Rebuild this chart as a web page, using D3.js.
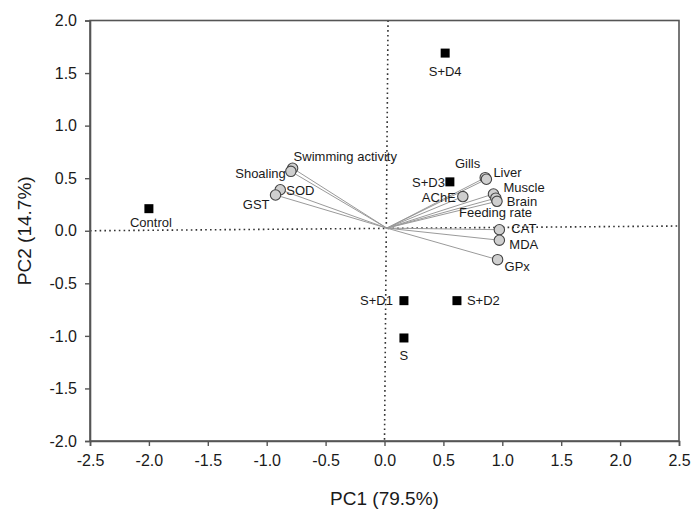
<!DOCTYPE html>
<html>
<head>
<meta charset="utf-8">
<script src="https://cdn.jsdelivr.net/npm/d3@7"></script>
<style>
    body { margin: 0; background: #fff; }
    text { font-family: "Liberation Sans", Arial, sans-serif; fill: #1a1a1a; }
</style>
</head>
<body>
<div id="chart"></div>
<script>
// sample scores (squares)
const sampleNames = ["Control", "S", "S+D1", "S+D2", "S+D3", "S+D4"];
const samplePC1 = [-2.0, 0.165, 0.165, 0.615, 0.555, 0.515];
const samplePC2 = [0.21, -1.02, -0.665, -0.665, 0.465, 1.69];

// variable loadings (circles)
const varNames = ["Swimming activity", "Shoaling", "SOD", "GST", "Gills", "Liver", "AChE",
    "Muscle", "Brain", "Feeding rate", "CAT", "MDA", "GPx"];
const varPC1 = [-0.78, -0.795, -0.885, -0.925, 0.855, 0.865, 0.665, 0.925, 0.945, 0.955, 0.975, 0.975, 0.96];
const varPC2 = [0.595, 0.565, 0.39, 0.34, 0.505, 0.49, 0.325, 0.35, 0.31, 0.28, 0.01, -0.09, -0.275];

const xTicks = [-2.5, -2.0, -1.5, -1.0, -0.5, 0.0, 0.5, 1.0, 1.5, 2.0, 2.5];
const yTicks = [-2.0, -1.5, -1.0, -0.5, 0.0, 0.5, 1.0, 1.5, 2.0];

// label placement (pixels, relative to marker)
const sampleLabelPos = {
    "Control": {dx: 2, dy: 18, anchor: "middle"},
    "S": {dx: 0, dy: 22, anchor: "middle"},
    "S+D1": {dx: -11, dy: 4, anchor: "end"},
    "S+D2": {dx: 10, dy: 4, anchor: "start"},
    "S+D3": {dx: -5, dy: 5, anchor: "end"},
    "S+D4": {dx: 0, dy: 23, anchor: "middle"}
};
const varLabelPos = {
    "Swimming activity": {dx: 1, dy: -7, anchor: "start"},
    "Shoaling": {dx: -5, dy: 7, anchor: "end"},
    "SOD": {dx: 6, dy: 5, anchor: "start"},
    "GST": {dx: -6, dy: 14, anchor: "end"},
    "Gills": {dx: -5, dy: -10, anchor: "end"},
    "Liver": {dx: 7, dy: -2, anchor: "start"},
    "AChE": {dx: -7, dy: 5, anchor: "end"},
    "Muscle": {dx: 10, dy: -2, anchor: "start"},
    "Brain": {dx: 11, dy: 8, anchor: "start"},
    "Feeding rate": {dx: -38, dy: 16, anchor: "start"},
    "CAT": {dx: 12, dy: 3, anchor: "start"},
    "MDA": {dx: 10, dy: 9, anchor: "start"},
    "GPx": {dx: 7, dy: 11, anchor: "start"}
};

const margin = {top: 20.5, right: 13, bottom: 69, left: 90};
const width = 692, height = 510;

const svg = d3.select("#chart").append("svg")
    .attr("width", width)
    .attr("height", height);

const x = d3.scaleLinear().domain([-2.5, 2.5]).range([margin.left, width - margin.right]);
const y = d3.scaleLinear().domain([-2.0, 2.0]).range([height - margin.bottom, margin.top]);

// reference lines (dotted)
const line = d3.line().x(d => x(d[0])).y(d => y(d[1]));
svg.append("path")
    .attr("d", line([[-2.5, 0], [2.5, 0.045]]))
    .attr("stroke", "#333").attr("stroke-width", 1.6)
    .attr("stroke-dasharray", "1.6,3.2").attr("fill", "none");
svg.append("path")
    .attr("d", line([[0.03, 2.0], [0.0, -2.0]]))
    .attr("stroke", "#333").attr("stroke-width", 1.6)
    .attr("stroke-dasharray", "1.6,3.2").attr("fill", "none");

// loading vectors
const origin = [0.02, 0.025];
svg.append("g").selectAll("line")
    .data(varNames)
    .join("line")
    .attr("x1", x(origin[0]))
    .attr("y1", y(origin[1]))
    .attr("x2", (d, i) => x(varPC1[i]))
    .attr("y2", (d, i) => y(varPC2[i]))
    .attr("stroke", "#9a9a9a")
    .attr("stroke-width", 1);

svg.append("g").selectAll("circle")
    .data(varNames)
    .join("circle")
    .attr("cx", (d, i) => x(varPC1[i]))
    .attr("cy", (d, i) => y(varPC2[i]))
    .attr("r", 5.2)
    .attr("fill", "#cfcfcf")
    .attr("stroke", "#444")
    .attr("stroke-width", 1.1);

svg.append("g").selectAll("text")
    .data(varNames)
    .join("text")
    .attr("x", (d, i) => x(varPC1[i]) + varLabelPos[d].dx)
    .attr("y", (d, i) => y(varPC2[i]) + varLabelPos[d].dy)
    .attr("text-anchor", d => varLabelPos[d].anchor)
    .attr("font-size", "13px")
    .text(d => d);

// sample squares
svg.append("g").selectAll("rect")
    .data(sampleNames)
    .join("rect")
    .attr("x", (d, i) => x(samplePC1[i]) - 4.5)
    .attr("y", (d, i) => y(samplePC2[i]) - 4.5)
    .attr("width", 9)
    .attr("height", 9)
    .attr("fill", "#000");

svg.append("g").selectAll("text")
    .data(sampleNames)
    .join("text")
    .attr("x", (d, i) => x(samplePC1[i]) + sampleLabelPos[d].dx)
    .attr("y", (d, i) => y(samplePC2[i]) + sampleLabelPos[d].dy)
    .attr("text-anchor", d => sampleLabelPos[d].anchor)
    .attr("font-size", "13px")
    .text(d => d);

// frame
svg.append("rect")
    .attr("x", margin.left)
    .attr("y", margin.top)
    .attr("width", width - margin.left - margin.right)
    .attr("height", height - margin.top - margin.bottom)
    .attr("fill", "none")
    .attr("stroke", "#555")
    .attr("stroke-width", 1.6);

// axes
const xAxis = svg.append("g")
    .attr("transform", `translate(0,${height - margin.bottom})`)
    .call(d3.axisBottom(x).tickValues(xTicks).tickFormat(d3.format(".1f")).tickSize(5).tickPadding(9));
const yAxis = svg.append("g")
    .attr("transform", `translate(${margin.left},0)`)
    .call(d3.axisLeft(y).tickValues(yTicks).tickFormat(d3.format(".1f")).tickSize(5).tickPadding(8));

[xAxis, yAxis].forEach(ax => {
    ax.select(".domain").attr("stroke", "#555").attr("stroke-width", 1.6);
    ax.selectAll(".tick line").attr("stroke", "#555").attr("stroke-width", 1.4);
    ax.selectAll(".tick text")
        .attr("font-family", "'Liberation Sans', Arial, sans-serif")
        .attr("font-size", "16px")
        .attr("fill", "#1a1a1a");
});
xAxis.selectAll(".tick text").text(d => d3.format(".1f")(d).replace("−", "-"));
yAxis.selectAll(".tick text").text(d => d3.format(".1f")(d).replace("−", "-"));

// axis titles
svg.append("text")
    .attr("x", (margin.left + width - margin.right) / 2)
    .attr("y", 505)
    .attr("text-anchor", "middle")
    .attr("font-size", "19px")
    .text("PC1 (79.5%)");

svg.append("text")
    .attr("transform", `translate(31,${(margin.top + height - margin.bottom) / 2}) rotate(-90)`)
    .attr("text-anchor", "middle")
    .attr("font-size", "19px")
    .text("PC2 (14.7%)");
</script>
</body>
</html>
